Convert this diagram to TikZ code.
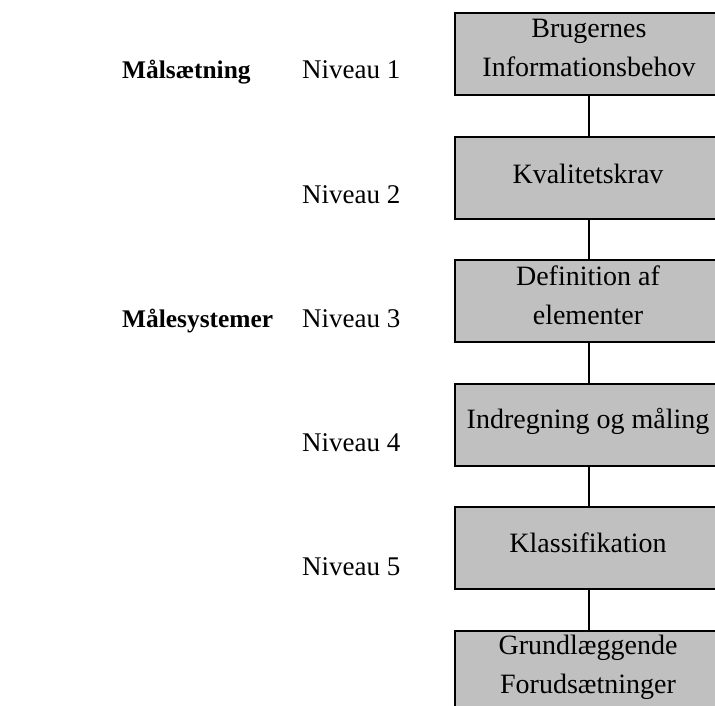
\documentclass[tikz,border=0pt]{standalone}
\usepackage{fontspec}
\setmainfont{Liberation Serif}
\definecolor{boxgray}{HTML}{C0C0C0}
\tikzset{
  lvlbox/.style={draw=black, line width=2pt, fill=boxgray, minimum width=268pt, minimum height=82pt, inner sep=0pt, outer sep=0pt},
  boxtext/.style={anchor=base, align=center, inner sep=0pt, font=\fontsize{28}{39}\selectfont},
  lvltext/.style={anchor=base west, inner sep=0pt, font=\fontsize{27}{39}\selectfont},
  headtext/.style={anchor=base west, inner sep=0pt, font=\fontsize{25.4}{39}\selectfont\bfseries},
  conn/.style={draw=black, line width=2pt}
}
\begin{document}
\begin{tikzpicture}[x=1pt, y=-1pt]
\useasboundingbox (0,0) rectangle (715,706);
\clip (0,0) rectangle (715,706);
\fill[white] (0,0) rectangle (715,706);
% boxes
\node[lvlbox] (b1) at (589,54) {};
\node[lvlbox] (b2) at (589,178) {};
\node[lvlbox] (b3) at (589,301) {};
\node[lvlbox] (b4) at (589,425) {};
\node[lvlbox] (b5) at (589,548) {};
\node[lvlbox] (b6) at (589,672) {};
% connectors
\draw[conn] (b1.south) -- (b2.north);
\draw[conn] (b2.south) -- (b3.north);
\draw[conn] (b3.south) -- (b4.north);
\draw[conn] (b4.south) -- (b5.north);
\draw[conn] (b5.south) -- (b6.north);
% box texts (multi-line nodes: base = last line's baseline)
\node[boxtext] (t1) at (589,77) {Brugernes\\Informationsbehov};
\node[boxtext] (t2) at (588,183) {Kvalitetskrav};
\node[boxtext] (t3) at (588,324) {Definition af\\elementer};
\node[boxtext] (t4) at (588,428) {Indregning og måling};
\node[boxtext] (t5) at (588,552) {Klassifikation};
\node[boxtext] (t6) at (588,693) {Grundlæggende\\Forudsætninger};
% level labels
\node[lvltext] (n1) at (302,79) {Niveau 1};
\node[lvltext] (n2) at (302,203) {Niveau 2};
\node[lvltext] (n3) at (302,327) {Niveau 3};
\node[lvltext] (n4) at (302,451) {Niveau 4};
\node[lvltext] (n5) at (302,575) {Niveau 5};
% headings
\node[headtext] (h1) at (122,79) {Målsætning};
\node[headtext] (h2) at (122,327) {Målesystemer};
\end{tikzpicture}
\end{document}
